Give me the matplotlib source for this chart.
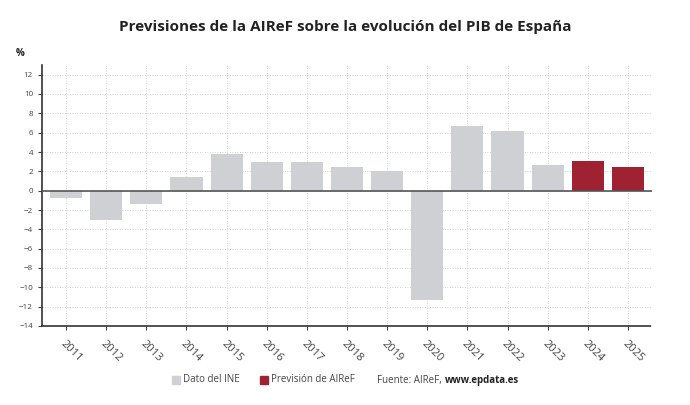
import matplotlib.pyplot as plt
import numpy as np

plt.rcParams['font.family'] = ['Open Sans', 'DejaVu Sans']

years = ['2011', '2012', '2013', '2014', '2015', '2016', '2017', '2018',
         '2019', '2020', '2021', '2022', '2023', '2024', '2025']
pib = [-0.8, -3.0, -1.4, 1.4, 3.8, 3.0, 3.0, 2.4, 2.0, -11.3, 6.7, 6.2, 2.7, 3.1, 2.5]
forecast = [False] * 13 + [True] * 2

grey = '#cfd0d3'
red = '#9e2232'

fig = plt.figure(figsize=(6.9, 4.05), dpi=100)
ax = fig.add_axes([42 / 690, 79 / 405, 610 / 690, 261 / 405])

x = np.arange(len(years))
colors = [red if f else grey for f in forecast]
ax.bar(x, pib, width=0.8, color=colors, zorder=2)
ax.axhline(0, color='#555555', lw=1.2, zorder=3)

ax.set_xlim(-0.6, len(years) - 0.4)
ax.set_ylim(-14, 13)
ax.set_yticks(range(-14, 13, 2))
ax.set_xticks(x)
ax.set_xticklabels(years, rotation=-45, ha='left', va='top', rotation_mode='anchor',
                   fontsize=8, color='#444444')
ax.tick_params(axis='y', labelsize=5.8, colors='#444444', length=3, width=0.8)
ax.tick_params(axis='x', length=3, width=0.8, color='#444444', pad=6)
for lab in ax.get_yticklabels():
    lab.set_color('#444444')

ax.grid(True, color='#c8c8c8', ls=(0, (1, 2)), lw=0.6, zorder=0)
for s in ['top', 'right']:
    ax.spines[s].set_visible(False)
ax.spines['left'].set_color('#333333')
ax.spines['left'].set_linewidth(1.2)
ax.spines['bottom'].set_color('#333333')
ax.spines['bottom'].set_linestyle((0, (1, 1)))
ax.spines['bottom'].set_linewidth(1.2)

fig.text(0.5, 0.933, 'Previsiones de la AIReF sobre la evolución del PIB de España',
         ha='center', va='center', fontsize=11, fontweight='bold', color='#222222')
fig.text(16 / 690, 1 - 53 / 405, '%', fontsize=7, fontweight='bold', color='#222222',
         va='center')

# legend / source row
ly = 1 - 380 / 405
fig.patches.append(plt.Rectangle((172 / 690, ly - 0.011), 8 / 690, 8 / 405,
                                 transform=fig.transFigure, color=grey))
fig.text(183 / 690, ly, 'Dato del INE', fontsize=7, color='#444444', va='center')
fig.patches.append(plt.Rectangle((260 / 690, ly - 0.011), 8 / 690, 8 / 405,
                                 transform=fig.transFigure, color=red))
fig.text(271 / 690, ly, 'Previsión de AIReF', fontsize=7, color='#444444', va='center')
fig.text(377 / 690, ly, 'Fuente: AIReF, ', fontsize=7, color='#444444', va='center')
fig.text(445 / 690, ly, 'www.epdata.es', fontsize=7, color='#222222',
         fontweight='bold', va='center')

fig.savefig('out.png', dpi=100)
